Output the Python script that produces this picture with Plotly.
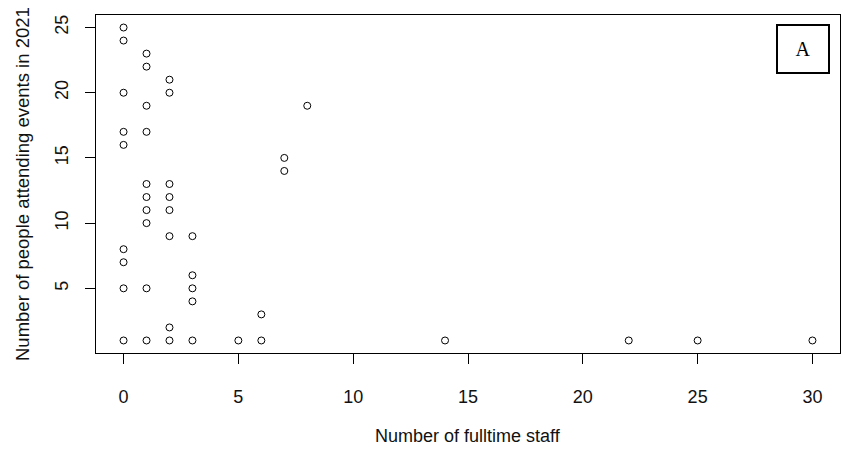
import plotly.graph_objects as go

# Data
staff = [0, 0, 0, 0, 0, 0, 0, 0, 0,
         1, 1, 1, 1, 1, 1, 1, 1, 1, 1,
         2, 2, 2, 2, 2, 2, 2, 2,
         3, 3, 3, 3, 3,
         5,
         6, 6,
         7, 7,
         8,
         14, 22, 25, 30]
attendees = [25, 24, 20, 17, 16, 8, 7, 5, 1,
             23, 22, 19, 17, 13, 12, 11, 10, 5, 1,
             21, 20, 13, 12, 11, 9, 2, 1,
             9, 6, 5, 4, 1,
             1,
             3, 1,
             15, 14,
             19,
             1, 1, 1, 1]
x_ticks = [0, 5, 10, 15, 20, 25, 30]
y_ticks = [5, 10, 15, 20, 25]
x_title = "Number of fulltime staff"
y_title = "Number of people attending events in 2021"
panel_label = "A"

FONT = "Liberation Sans, Arial, sans-serif"

fig = go.Figure()
fig.add_trace(go.Scatter(
    x=staff, y=attendees, mode="markers",
    marker=dict(symbol="circle-open", size=7, color="black", line=dict(width=1, color="black")),
    showlegend=False, hoverinfo="x+y",
))

axis_common = dict(
    showgrid=False, zeroline=False, showline=True, linecolor="black", linewidth=1,
    mirror=True, ticks="outside", ticklen=10, tickwidth=1, tickcolor="black",
    tickfont=dict(family=FONT, size=18, color="#111111"),
)

fig.update_xaxes(range=[-1.2, 31.2], tickvals=x_ticks, ticklabelstandoff=17, **axis_common)
fig.update_yaxes(range=[0.04, 25.96], tickvals=y_ticks, tickangle=-90, ticklabelstandoff=10, **axis_common)

fig.update_layout(
    width=845, height=450,
    margin=dict(l=96, r=5, t=15, b=97),
    paper_bgcolor="white", plot_bgcolor="white",
    font=dict(family=FONT, size=18, color="#111111"),
    annotations=[
        dict(text=x_title, xref="paper", yref="paper", x=0.5, y=0, yanchor="middle",
             yshift=-83, showarrow=False, font=dict(family=FONT, size=18, color="#111111")),
        dict(text=y_title, xref="paper", yref="paper", x=0, y=0.5, xanchor="center",
             xshift=-74, textangle=-90, showarrow=False,
             font=dict(family=FONT, size=18.5, color="#111111")),
        dict(text=panel_label, xref="paper", yref="paper", x=0.950, y=0.899,
             xanchor="center", yanchor="middle", showarrow=False,
             font=dict(family="Liberation Serif, Times New Roman, serif", size=20, color="black"),
             bordercolor="black", borderwidth=2, bgcolor="white", width=48, height=44),
    ],
)

fig.write_html("out.html", config={"displayModeBar": False},
               post_script="document.body.style.margin='0';document.body.style.overflow='hidden';")
